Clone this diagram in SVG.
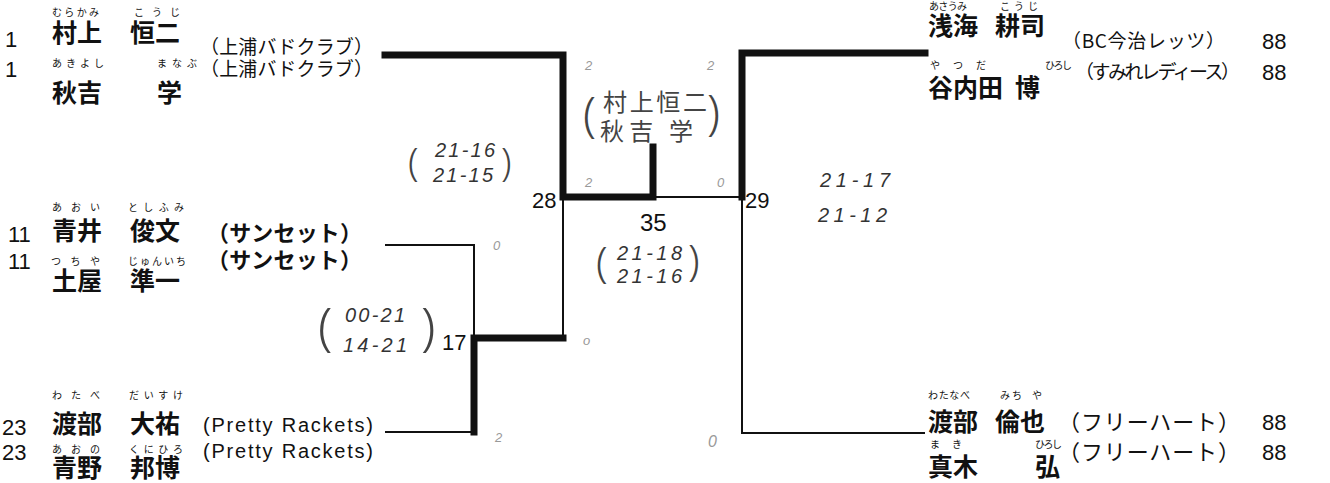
<svg xmlns="http://www.w3.org/2000/svg" width="1330" height="483" viewBox="0 0 1330 483">
<style>
.seed{font-family:"Liberation Sans",Arial,sans-serif;font-size:22px;fill:#111}
.name{font-family:"Noto Sans CJK JP",sans-serif;font-size:25px;font-weight:700;fill:#111}
.ruby{font-family:"Noto Sans CJK JP",sans-serif;font-size:10px;fill:#111}
.team{font-family:"Noto Sans CJK JP",sans-serif;font-size:19px;fill:#111}
.teamb{font-family:"Noto Sans CJK JP",sans-serif;font-size:22px;font-weight:700;fill:#111}
.lat{font-family:"Liberation Sans",Arial,sans-serif;font-size:20px;fill:#111}
.num{font-family:"Liberation Sans",Arial,sans-serif;font-size:22px;fill:#111}
.thick{fill:none;stroke:#111;stroke-width:7;stroke-linejoin:miter;stroke-linecap:square}
.thin{fill:none;stroke:#111;stroke-width:2}
.hand{font-family:"Liberation Sans",Arial,sans-serif;font-style:italic;font-size:20px;fill:#333}
.handj{font-family:"Noto Sans CJK JP",sans-serif;font-weight:400;font-size:24px;fill:#444}
.paren{font-family:"Noto Sans",sans-serif;font-weight:300;fill:#444}
.mark{font-family:"Liberation Sans",Arial,sans-serif;font-style:italic;font-size:13px;fill:#999}
</style>

<g id="connectors">
  <path class="thick" d="M385,55 H563 V197 H653 V147"/>
  <path class="thin" d="M653,197 H742"/>
  <path class="thick" d="M742,197 V53 H925"/>
  <path class="thin" d="M742,197 V433 H925"/>
  <path class="thin" d="M563,197 V338"/>
  <path class="thick" d="M563,338 H474 V432"/>
  <path class="thin" d="M385,245 H474 V338"/>
  <path class="thin" d="M385,432 H474"/>
</g>

<g id="entry-1">
  <text class="seed" x="5" y="47">1</text>
  <text class="ruby" x="52" y="16" textLength="47">むらかみ</text>
  <text class="name" x="52" y="42">村上</text>
  <text class="ruby" x="134" y="16" textLength="46">こうじ</text>
  <text class="name" x="130" y="42">恒二</text>
  <text class="team" x="200" y="54" textLength="173">（上浦バドクラブ）</text>
  <text class="seed" x="5" y="77">1</text>
  <text class="ruby" x="52" y="67" textLength="52">あきよし</text>
  <text class="name" x="52" y="102">秋吉</text>
  <text class="ruby" x="157" y="67" textLength="40">まなぶ</text>
  <text class="name" x="157" y="102">学</text>
  <text class="team" x="200" y="76" textLength="173">（上浦バドクラブ）</text>
</g>

<g id="entry-11">
  <text class="seed" x="8" y="242">11</text>
  <text class="ruby" x="52" y="211" textLength="48">あおい</text>
  <text class="name" x="52" y="240">青井</text>
  <text class="ruby" x="128" y="211" textLength="56">としふみ</text>
  <text class="name" x="130" y="240">俊文</text>
  <text class="teamb" x="207" y="241" textLength="155">（サンセット）</text>
  <text class="seed" x="8" y="269">11</text>
  <text class="ruby" x="51" y="265" textLength="49">つちや</text>
  <text class="name" x="52" y="290">土屋</text>
  <text class="ruby" x="128" y="265" textLength="58">じゅんいち</text>
  <text class="name" x="130" y="290">準一</text>
  <text class="teamb" x="207" y="268" textLength="155">（サンセット）</text>
</g>

<g id="entry-23">
  <text class="seed" x="2" y="435">23</text>
  <text class="ruby" x="52" y="399" textLength="48">わたべ</text>
  <text class="name" x="52" y="433">渡部</text>
  <text class="ruby" x="129" y="399" textLength="54">だいすけ</text>
  <text class="name" x="130" y="433">大祐</text>
  <text class="lat" x="203" y="432" textLength="170">(Pretty Rackets)</text>
  <text class="seed" x="2" y="460">23</text>
  <text class="ruby" x="52" y="453" textLength="48">あおの</text>
  <text class="name" x="52" y="477">青野</text>
  <text class="ruby" x="129" y="453" textLength="54">くにひろ</text>
  <text class="name" x="130" y="477">邦博</text>
  <text class="lat" x="203" y="458" textLength="170">(Pretty Rackets)</text>
</g>

<g id="entry-asaumi">
  <text class="ruby" x="929" y="10" textLength="38">あさうみ</text>
  <text class="name" x="928" y="35">浅海</text>
  <text class="ruby" x="1000" y="10" textLength="38">こうじ</text>
  <text class="name" x="995" y="35">耕司</text>
  <text class="team" x="1062" y="48" textLength="163">（BC今治レッツ）</text>
  <text class="seed" x="1262" y="49">88</text>
  <text class="ruby" x="930" y="69" textLength="56">やつだ</text>
  <text class="name" x="928" y="97">谷内田</text>
  <text class="ruby" x="1045" y="69" textLength="27">ひろし</text>
  <text class="name" x="1015" y="97">博</text>
  <text class="team" x="1075" y="79" textLength="165">（すみれレディース）</text>
  <text class="seed" x="1262" y="80">88</text>
</g>

<g id="entry-watanabe">
  <text class="ruby" x="928" y="399" textLength="42">わたなべ</text>
  <text class="name" x="928" y="431">渡部</text>
  <text class="ruby" x="1000" y="399" textLength="22">みち</text>
  <text class="ruby" x="1032" y="399">や</text>
  <text class="name" x="995" y="431">倫也</text>
  <text class="team" x="1058" y="430" style="font-size:22px" textLength="182">（フリーハート）</text>
  <text class="seed" x="1262" y="430">88</text>
  <text class="ruby" x="930" y="448" textLength="32">まき</text>
  <text class="name" x="928" y="476">真木</text>
  <text class="ruby" x="1035" y="448" textLength="27">ひろし</text>
  <text class="name" x="1035" y="476">弘</text>
  <text class="team" x="1058" y="460" style="font-size:22px" textLength="182">（フリーハート）</text>
  <text class="seed" x="1262" y="460">88</text>
</g>

<g id="match-17">
  <text class="num" x="442" y="350">17</text>
  <text class="paren" x="318" y="345" style="font-size:52px">(</text>
  <text class="hand" x="345" y="322" textLength="60">00-21</text>
  <text class="hand" x="343" y="352" textLength="64">14-21</text>
  <text class="paren" x="421" y="345" style="font-size:52px">)</text>
  <text class="mark" x="493" y="250">0</text>
  <text class="mark" x="495" y="442">2</text>
</g>

<g id="match-28">
  <text class="num" x="532" y="208">28</text>
  <text class="paren" x="408" y="176" style="font-size:38px">(</text>
  <text class="hand" x="435" y="157" textLength="60">21-16</text>
  <text class="hand" x="433" y="182" textLength="60">21-15</text>
  <text class="paren" x="501" y="176" style="font-size:38px">)</text>
  <text class="mark" x="585" y="70">2</text>
  <text class="mark" x="583" y="345">o</text>
</g>

<g id="match-29">
  <text class="num" x="745" y="208">29</text>
  <text class="hand" x="820" y="187" textLength="70">21-17</text>
  <text class="hand" x="818" y="222" textLength="69">21-12</text>
  <text class="mark" x="707" y="70">2</text>
  <text class="mark" x="708" y="447" style="font-size:16px">0</text>
</g>

<g id="match-35">
  <text class="num" x="640" y="231" style="font-size:24px">35</text>
  <text class="paren" x="596" y="277" style="font-size:42px">(</text>
  <text class="hand" x="617" y="260" textLength="65">21-18</text>
  <text class="hand" x="617" y="283" textLength="65">21-16</text>
  <text class="paren" x="688" y="275" style="font-size:42px">)</text>
  <text class="paren" x="583" y="131" style="font-size:47px">(</text>
  <text class="handj" x="603" y="111" textLength="104">村上恒二</text>
  <text class="handj" x="600" y="140" textLength="93">秋吉 学</text>
  <text class="paren" x="707" y="129" style="font-size:47px">)</text>
  <text class="mark" x="585" y="187">2</text>
  <text class="mark" x="717" y="187">0</text>
</g>
</svg>
